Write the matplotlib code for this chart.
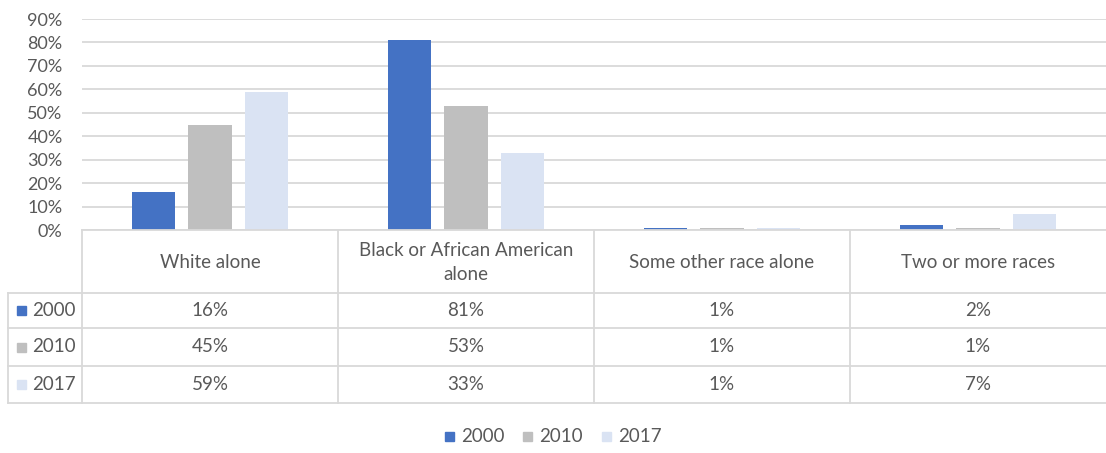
import numpy as np
import matplotlib.pyplot as plt
from matplotlib.patches import Rectangle

plt.rcParams['font.family'] = ['Lato', 'DejaVu Sans']

categories = ['White alone', 'Black or African American\nalone', 'Some other race alone', 'Two or more races']
years = ['2000', '2010', '2017']
v2000 = [16, 81, 1, 2]
v2010 = [45, 53, 1, 1]
v2017 = [59, 33, 1, 7]
colors = ['#4472C4', '#BFBFBF', '#DAE3F3']
yticks = [0, 10, 20, 30, 40, 50, 60, 70, 80, 90]

W, H = 1106, 453
txt = '#595959'
grid = '#D9D9D9'
fs = 13.5

fig = plt.figure(figsize=(W / 100, H / 100), dpi=100)

# bar plot area in pixel coords
left, right, top, bottom = 82, 1106, 19, 230
ax = fig.add_axes([left / W, 1 - bottom / H, (right - left) / W, (bottom - top) / H])
series = [v2000, v2010, v2017]
x = np.arange(len(categories))
for i, vals in enumerate(series):
    ax.bar(x + (i - 1) * 0.22, np.array(vals) / 100, width=0.168, color=colors[i], zorder=3)
ax.set_xlim(-0.5, len(categories) - 0.5)
ax.set_ylim(0, 0.9)
ax.set_yticks(np.array(yticks) / 100)
ax.set_yticklabels([f'{t}%' for t in yticks], fontsize=13, color=txt)
ax.tick_params(axis='y', length=0, pad=14)
ax.set_xticks([])
ax.grid(axis='y', color=grid, linewidth=1.3, zorder=0)
for s in ax.spines.values():
    s.set_visible(False)

# data table drawn in pixel coords on an overlay axes
tab = fig.add_axes([0, 0, 1, 1])
tab.set_xlim(0, W)
tab.set_ylim(H, 0)
tab.axis('off')
col_w = (right - left) / len(categories)
edges = [left + col_w * k for k in range(len(categories) + 1)]
rows = [230, 293, 328, 366, 403]
lc = '#D9D9D9'
lw = 1.3
tab.plot([left, W], [rows[0], rows[0]], color=lc, lw=lw)
for r in rows[1:]:
    tab.plot([8, W], [r, r], color=lc, lw=lw)
tab.plot([8, 8], [rows[1], rows[-1]], color=lc, lw=lw)
for e in edges[:-1]:
    tab.plot([e, e], [rows[0], rows[-1]], color=lc, lw=lw)
for j, c in enumerate(categories):
    cx = (edges[j] + edges[j + 1]) / 2
    tab.text(cx, (rows[0] + rows[1]) / 2 + 1, c, ha='center', va='center', fontsize=fs,
             color=txt, linespacing=1.45)
for i, vals in enumerate(series):
    cy = (rows[i + 1] + rows[i + 2]) / 2
    tab.add_patch(Rectangle((17, cy - 4.5), 9, 9, color=colors[i]))
    tab.text(32, cy, years[i], ha='left', va='center', fontsize=fs, color=txt)
    for j, v in enumerate(vals):
        cx = (edges[j] + edges[j + 1]) / 2
        tab.text(cx, cy, f'{v}%', ha='center', va='center', fontsize=fs, color=txt)

# legend at the bottom
lx = [445, 523, 602]
for i, yr in enumerate(years):
    tab.add_patch(Rectangle((lx[i], 431.5), 9, 9, color=colors[i]))
    tab.text(lx[i] + 16, 436, yr, ha='left', va='center', fontsize=fs, color=txt)

fig.savefig('out.png', dpi=100)
